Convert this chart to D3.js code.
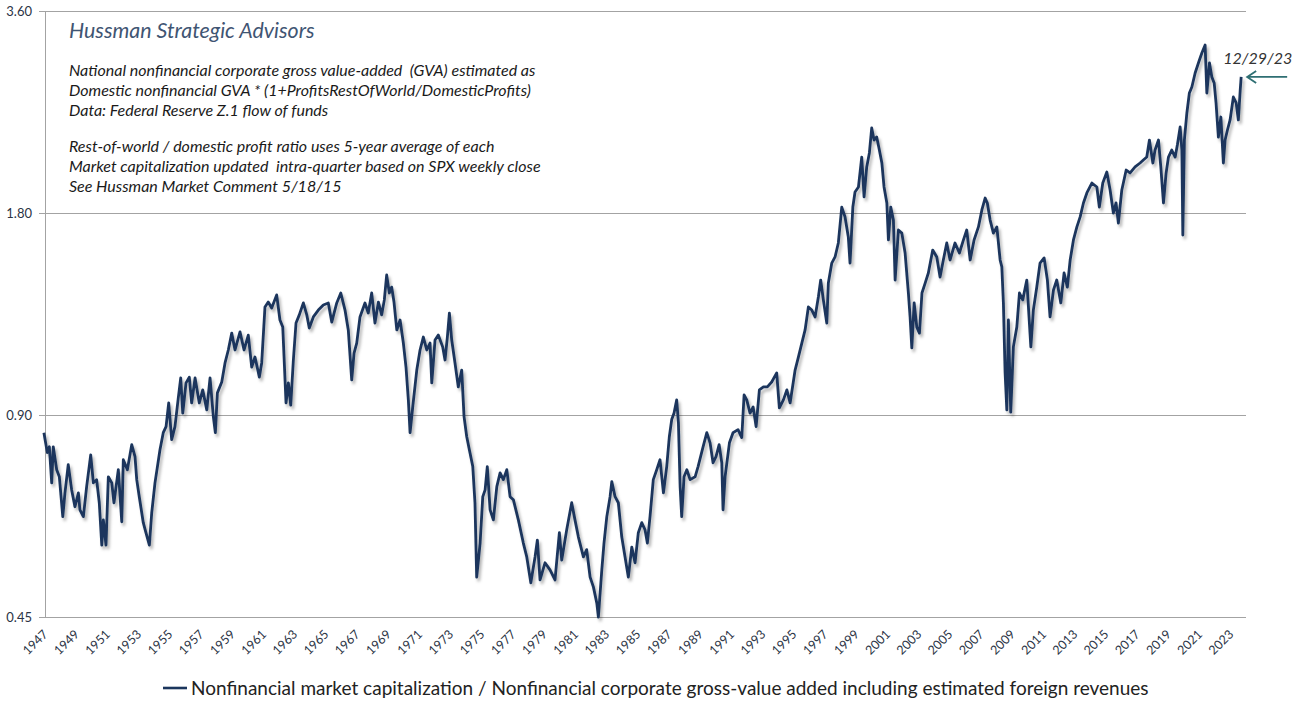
<!DOCTYPE html>
<html>
<head>
<meta charset="utf-8">
<script src="https://cdn.jsdelivr.net/npm/d3@7"></script>
<style>
  body { margin: 0; background: #ffffff; }
  svg { display: block; }
</style>
</head>
<body>
<svg id="chart"></svg>
<script>

// quarterly-ish readings of the weekly series (year, ratio)
const years = [
  1947.25, 1947.47, 1947.60, 1947.75, 1947.85, 1948.07, 1948.24, 1948.46, 1948.60, 1948.81,
  1949.03, 1949.24, 1949.46, 1949.56, 1949.78, 1949.99, 1950.25, 1950.42, 1950.63, 1950.80,
  1950.96, 1951.06, 1951.23, 1951.38, 1951.60, 1951.74, 1952.02, 1952.24, 1952.34, 1952.60,
  1952.88, 1953.09, 1953.20, 1953.37, 1953.62, 1953.79, 1954.01, 1954.16, 1954.37, 1954.69,
  1954.90, 1955.08, 1955.25, 1955.44, 1955.65, 1955.87, 1956.02, 1956.15, 1956.36, 1956.57,
  1956.72, 1956.94, 1957.21, 1957.43, 1957.69, 1957.90, 1958.11, 1958.24, 1958.37, 1958.65,
  1958.86, 1959.07, 1959.29, 1959.50, 1959.82, 1960.08, 1960.35, 1960.57, 1960.78, 1961.06,
  1961.21, 1961.42, 1961.63, 1961.85, 1962.17, 1962.38, 1962.56, 1962.77, 1962.92, 1963.07,
  1963.24, 1963.41, 1963.62, 1963.88, 1964.10, 1964.26, 1964.52, 1964.84, 1965.16, 1965.48,
  1965.70, 1966.02, 1966.28, 1966.55, 1966.76, 1966.98, 1967.13, 1967.30, 1967.51, 1967.83,
  1968.04, 1968.26, 1968.47, 1968.69, 1968.90, 1969.07, 1969.22, 1969.39, 1969.54, 1969.69,
  1969.87, 1970.08, 1970.29, 1970.46, 1970.61, 1970.72, 1970.89, 1971.15, 1971.36, 1971.57,
  1971.79, 1972.00, 1972.11, 1972.32, 1972.53, 1972.81, 1972.96, 1973.11, 1973.24, 1973.39,
  1973.60, 1973.81, 1974.03, 1974.18, 1974.35, 1974.52, 1974.74, 1974.88, 1974.99, 1975.21,
  1975.38, 1975.53, 1975.67, 1975.85, 1976.06, 1976.28, 1976.49, 1976.70, 1976.92, 1977.13,
  1977.34, 1977.66, 1977.98, 1978.20, 1978.46, 1978.73, 1978.88, 1979.05, 1979.37, 1979.69,
  1980.01, 1980.29, 1980.44, 1980.76, 1981.08, 1981.29, 1981.51, 1981.83, 1982.04, 1982.26,
  1982.47, 1982.69, 1982.79, 1983.01, 1983.15, 1983.33, 1983.54, 1983.65, 1983.86, 1984.07,
  1984.29, 1984.50, 1984.71, 1984.93, 1985.14, 1985.35, 1985.57, 1985.78, 1985.93, 1986.10,
  1986.31, 1986.53, 1986.74, 1986.96, 1987.17, 1987.34, 1987.49, 1987.64, 1987.81, 1987.92,
  1988.03, 1988.13, 1988.28, 1988.46, 1988.67, 1988.99, 1989.18, 1989.50, 1989.74, 1989.95,
  1990.14, 1990.33, 1990.53, 1990.70, 1990.78, 1990.91, 1991.19, 1991.42, 1991.74, 1991.98,
  1992.13, 1992.30, 1992.51, 1992.71, 1992.90, 1993.11, 1993.37, 1993.62, 1993.90, 1994.22,
  1994.39, 1994.65, 1994.87, 1995.08, 1995.40, 1995.61, 1995.83, 1996.04, 1996.25, 1996.47,
  1996.68, 1996.89, 1997.04, 1997.21, 1997.43, 1997.53, 1997.75, 1997.96, 1998.17, 1998.39,
  1998.60, 1998.81, 1998.92, 1999.10, 1999.24, 1999.46, 1999.67, 1999.82, 1999.99, 2000.16,
  2000.31, 2000.46, 2000.63, 2000.80, 2000.96, 2001.10, 2001.28, 2001.38, 2001.53, 2001.70,
  2001.81, 2002.02, 2002.24, 2002.45, 2002.66, 2002.77, 2002.88, 2003.03, 2003.20, 2003.37,
  2003.53, 2003.74, 2003.94, 2004.22, 2004.48, 2004.69, 2004.90, 2005.12, 2005.33, 2005.65,
  2005.93, 2006.19, 2006.40, 2006.62, 2006.87, 2007.15, 2007.37, 2007.58, 2007.72, 2007.90,
  2008.11, 2008.33, 2008.54, 2008.65, 2008.75, 2008.86, 2008.97, 2009.07, 2009.22, 2009.39,
  2009.61, 2009.78, 2009.99, 2010.25, 2010.51, 2010.67, 2010.89, 2011.10, 2011.36, 2011.57,
  2011.74, 2011.96, 2012.17, 2012.43, 2012.64, 2012.85, 2013.03, 2013.24, 2013.46, 2013.67,
  2013.88, 2014.10, 2014.42, 2014.74, 2014.90, 2015.12, 2015.38, 2015.59, 2015.80, 2015.97,
  2016.12, 2016.34, 2016.62, 2016.87, 2017.19, 2017.51, 2017.72, 2017.94, 2018.11, 2018.33,
  2018.47, 2018.69, 2018.84, 2019.01, 2019.18, 2019.33, 2019.54, 2019.76, 2019.90, 2020.08,
  2020.19, 2020.25, 2020.35, 2020.51, 2020.67, 2020.83, 2021.04, 2021.25, 2021.47, 2021.68,
  2021.79, 2021.96, 2022.11, 2022.26, 2022.38, 2022.53, 2022.69, 2022.85, 2022.96, 2023.11,
  2023.28, 2023.49, 2023.67, 2023.81, 2023.93, 2023.99
];

const ratio = [
  0.847, 0.791, 0.807, 0.713, 0.807, 0.746, 0.728, 0.635, 0.689, 0.759,
  0.696, 0.657, 0.689, 0.650, 0.635, 0.704, 0.785, 0.713, 0.721, 0.666,
  0.576, 0.628, 0.576, 0.728, 0.713, 0.666, 0.746, 0.624, 0.772, 0.746,
  0.813, 0.780, 0.721, 0.678, 0.622, 0.601, 0.576, 0.643, 0.713, 0.799,
  0.847, 0.865, 0.938, 0.827, 0.865, 0.957, 1.022, 0.906, 1.005, 1.025,
  0.938, 1.022, 0.938, 0.981, 0.916, 1.022, 0.895, 0.847, 0.971, 1.008,
  1.076, 1.125, 1.192, 1.125, 1.197, 1.125, 1.184, 1.061, 1.098, 1.025,
  1.076, 1.304, 1.326, 1.299, 1.359, 1.247, 1.217, 0.938, 1.005, 0.931,
  1.087, 1.234, 1.269, 1.322, 1.269, 1.213, 1.260, 1.290, 1.313, 1.322,
  1.238, 1.322, 1.368, 1.290, 1.205, 1.015, 1.113, 1.152, 1.260, 1.322,
  1.277, 1.368, 1.234, 1.326, 1.269, 1.336, 1.455, 1.368, 1.396, 1.326,
  1.205, 1.247, 1.152, 1.061, 0.948, 0.847, 0.925, 1.050, 1.125, 1.176,
  1.125, 1.152, 1.005, 1.164, 1.184, 1.137, 1.087, 1.176, 1.277, 1.164,
  1.076, 0.991, 1.050, 0.895, 0.836, 0.799, 0.754, 0.666, 0.516, 0.580,
  0.680, 0.696, 0.754, 0.650, 0.628, 0.704, 0.738, 0.721, 0.746, 0.680,
  0.673, 0.628, 0.580, 0.553, 0.506, 0.553, 0.586, 0.511, 0.542, 0.529,
  0.511, 0.601, 0.547, 0.607, 0.666, 0.628, 0.592, 0.553, 0.567, 0.516,
  0.499, 0.472, 0.450, 0.529, 0.580, 0.635, 0.680, 0.716, 0.680, 0.666,
  0.592, 0.553, 0.516, 0.572, 0.542, 0.601, 0.622, 0.607, 0.580, 0.635,
  0.721, 0.746, 0.772, 0.689, 0.754, 0.836, 0.886, 0.906, 0.948, 0.877,
  0.704, 0.635, 0.728, 0.746, 0.721, 0.728, 0.754, 0.807, 0.847, 0.818,
  0.764, 0.780, 0.813, 0.764, 0.650, 0.728, 0.818, 0.847, 0.856, 0.833,
  0.964, 0.948, 0.906, 0.925, 0.865, 0.981, 0.991, 0.991, 1.008, 1.040,
  0.922, 0.948, 0.981, 0.938, 1.050, 1.098, 1.152, 1.205, 1.304, 1.290,
  1.260, 1.349, 1.430, 1.336, 1.234, 1.416, 1.516, 1.548, 1.624, 1.837,
  1.776, 1.658, 1.516, 1.837, 1.934, 1.968, 2.181, 1.902, 2.108, 2.212,
  2.410, 2.312, 2.336, 2.234, 2.137, 1.968, 1.863, 1.641, 1.837, 1.757,
  1.430, 1.698, 1.680, 1.569, 1.368, 1.260, 1.133, 1.322, 1.217, 1.192,
  1.368, 1.416, 1.465, 1.585, 1.548, 1.445, 1.532, 1.624, 1.532, 1.624,
  1.569, 1.641, 1.698, 1.532, 1.641, 1.716, 1.819, 1.895, 1.863, 1.757,
  1.680, 1.716, 1.532, 1.496, 1.322, 1.040, 0.916, 1.247, 0.909, 1.137,
  1.217, 1.368, 1.336, 1.430, 1.137, 1.290, 1.396, 1.516, 1.543, 1.430,
  1.260, 1.382, 1.430, 1.322, 1.465, 1.396, 1.532, 1.641, 1.716, 1.776,
  1.863, 1.928, 1.995, 1.968, 1.837, 1.995, 2.072, 1.948, 1.800, 1.863,
  1.739, 1.948, 2.086, 2.065, 2.108, 2.137, 2.159, 2.181, 2.312, 2.137,
  2.234, 2.312, 2.108, 1.863, 2.065, 2.181, 2.234, 2.181, 2.273, 2.418,
  2.234, 1.669, 2.312, 2.537, 2.717, 2.774, 2.910, 3.012, 3.117, 3.204,
  2.717, 3.012, 2.871, 2.812, 2.626, 2.336, 2.502, 2.137, 2.312, 2.393,
  2.477, 2.680, 2.626, 2.477, 2.745, 2.871
];

const yTicks = [0.45, 0.90, 1.80, 3.60];
const xTicks = d3.range(1947, 2024, 2);

const title = "Hussman Strategic Advisors";
const noteLines = [
  "National nonfinancial corporate gross value-added  (GVA) estimated as",
  "Domestic nonfinancial GVA * (1+ProfitsRestOfWorld/DomesticProfits)",
  "Data: Federal Reserve Z.1 flow of funds",
  "",
  "Rest-of-world / domestic profit ratio uses 5-year average of each",
  "Market capitalization updated  intra-quarter based on SPX weekly close",
  "See Hussman Market Comment 5/18/15"
];
const lastLabel = "12/29/23";
const legendLabel = "Nonfinancial market capitalization / Nonfinancial corporate gross-value added including estimated foreign revenues";

function drawChart(id) {
  const width = 1292;
  const height = 703;
  const margin = { top: 11, right: 46, bottom: 86, left: 40 };
  const axisX = 45; // excel draws the value axis a little inside the first date
  const lineColor = "#1b365d";
  const gridColor = "#a3a3a3";
  const arrowColor = "#2f6f73";
  const labelColor = "#2b3445";

  const svg = d3.select("#" + id)
    .attr("width", width)
    .attr("height", height)
    .style("font-family", "Lato, 'Open Sans', sans-serif");

  const data = years.map((yr, i) => ({ year: yr, value: ratio[i] }));

  const x = d3.scaleLinear()
    .domain([1947, 2024.3])
    .range([margin.left, width - margin.right]);

  const y = d3.scaleLog()
    .domain([0.45, 3.6])
    .range([height - margin.bottom, margin.top]);

  const gridW = width - margin.right - axisX;

  // soft shadow under the series, like the excel original
  const defs = svg.append("defs");
  const filter = defs.append("filter")
    .attr("id", "shadow")
    .attr("x", "-5%").attr("y", "-5%")
    .attr("width", "110%").attr("height", "115%");
  filter.append("feDropShadow")
    .attr("dx", 2)
    .attr("dy", 3)
    .attr("stdDeviation", 1.6)
    .attr("flood-color", "#000")
    .attr("flood-opacity", 0.3);

  // y axis + gridlines
  const yAxis = svg.append("g")
    .attr("transform", `translate(${axisX},0)`)
    .call(d3.axisLeft(y)
      .tickValues(yTicks)
      .tickFormat(d3.format(".2f"))
      .tickSizeInner(-gridW)
      .tickSizeOuter(0));
  yAxis.select(".domain")
    .attr("stroke", gridColor)
    .attr("shape-rendering", "crispEdges");
  yAxis.selectAll(".tick line")
    .attr("x1", -6)
    .attr("x2", gridW)
    .attr("stroke", gridColor)
    .attr("shape-rendering", "crispEdges");
  yAxis.selectAll(".tick text")
    .attr("x", -13)
    .attr("fill", labelColor)
    .style("font-size", "13px")
    .style("font-family", "Lato, sans-serif");

  // x axis: labels only, rotated like excel
  const xAxis = svg.append("g")
    .attr("transform", `translate(0,${height - margin.bottom})`)
    .call(d3.axisBottom(x)
      .tickValues(xTicks)
      .tickFormat(d3.format("d"))
      .tickSize(0));
  xAxis.select(".domain").remove();
  xAxis.selectAll(".tick text")
    .attr("y", 0)
    .attr("dy", "0.35em")
    .attr("transform", "translate(5,15) rotate(-45)")
    .attr("text-anchor", "end")
    .attr("fill", labelColor)
    .style("font-size", "12.5px")
    .style("font-family", "Lato, sans-serif");

  // the series
  const line = d3.line()
    .x((d) => x(d.year))
    .y((d) => y(d.value));

  svg.append("path")
    .datum(data)
    .attr("d", line)
    .attr("fill", "none")
    .attr("stroke", lineColor)
    .attr("stroke-width", 2.8)
    .attr("stroke-linejoin", "round")
    .attr("filter", "url(#shadow)");

  // annotation block
  svg.append("text")
    .attr("x", 69)
    .attr("y", 38)
    .text(title)
    .attr("fill", "#3f5573")
    .style("font-style", "italic")
    .style("font-size", "21.4px");

  const notes = svg.append("g")
    .attr("fill", "#1a1a1a")
    .style("font-style", "italic")
    .style("font-size", "16px");
  notes.selectAll("text")
    .data(noteLines)
    .enter()
    .append("text")
    .attr("x", 69)
    .attr("y", (d, i) => 76 + i * 20 - (i > 3 ? 4 : 0))
    .attr("xml:space", "preserve")
    .text((d) => d);

  // last value marker
  const last = data[data.length - 1];
  const tipX = x(last.year) + 6;
  const tipY = y(last.value);
  svg.append("text")
    .attr("x", tipX - 24)
    .attr("y", tipY - 13)
    .text(lastLabel)
    .attr("fill", "#333")
    .style("font-style", "italic")
    .style("font-size", "16px");
  svg.append("path")
    .attr("d", `M${tipX + 40},${tipY}H${tipX}M${tipX + 9},${tipY - 6}L${tipX},${tipY}L${tipX + 9},${tipY + 6}`)
    .attr("fill", "none")
    .attr("stroke", arrowColor)
    .attr("stroke-width", 1.8);

  // legend
  const legend = svg.append("g").attr("transform", "translate(163,688)");
  legend.append("line")
    .attr("x1", 0).attr("x2", 24)
    .attr("stroke", lineColor)
    .attr("stroke-width", 2.6);
  const legendText = legend.append("text")
    .attr("x", 28)
    .attr("dy", "0.35em")
    .attr("fill", "#222")
    .style("font-size", "19px")
    .text(legendLabel);
  // squeeze font so the text spans the same width as the original
  const w = legendText.node().getComputedTextLength();
  legendText.style("font-size", (19 * 958 / w) + "px");
}

drawChart("chart");
</script>
</body>
</html>
